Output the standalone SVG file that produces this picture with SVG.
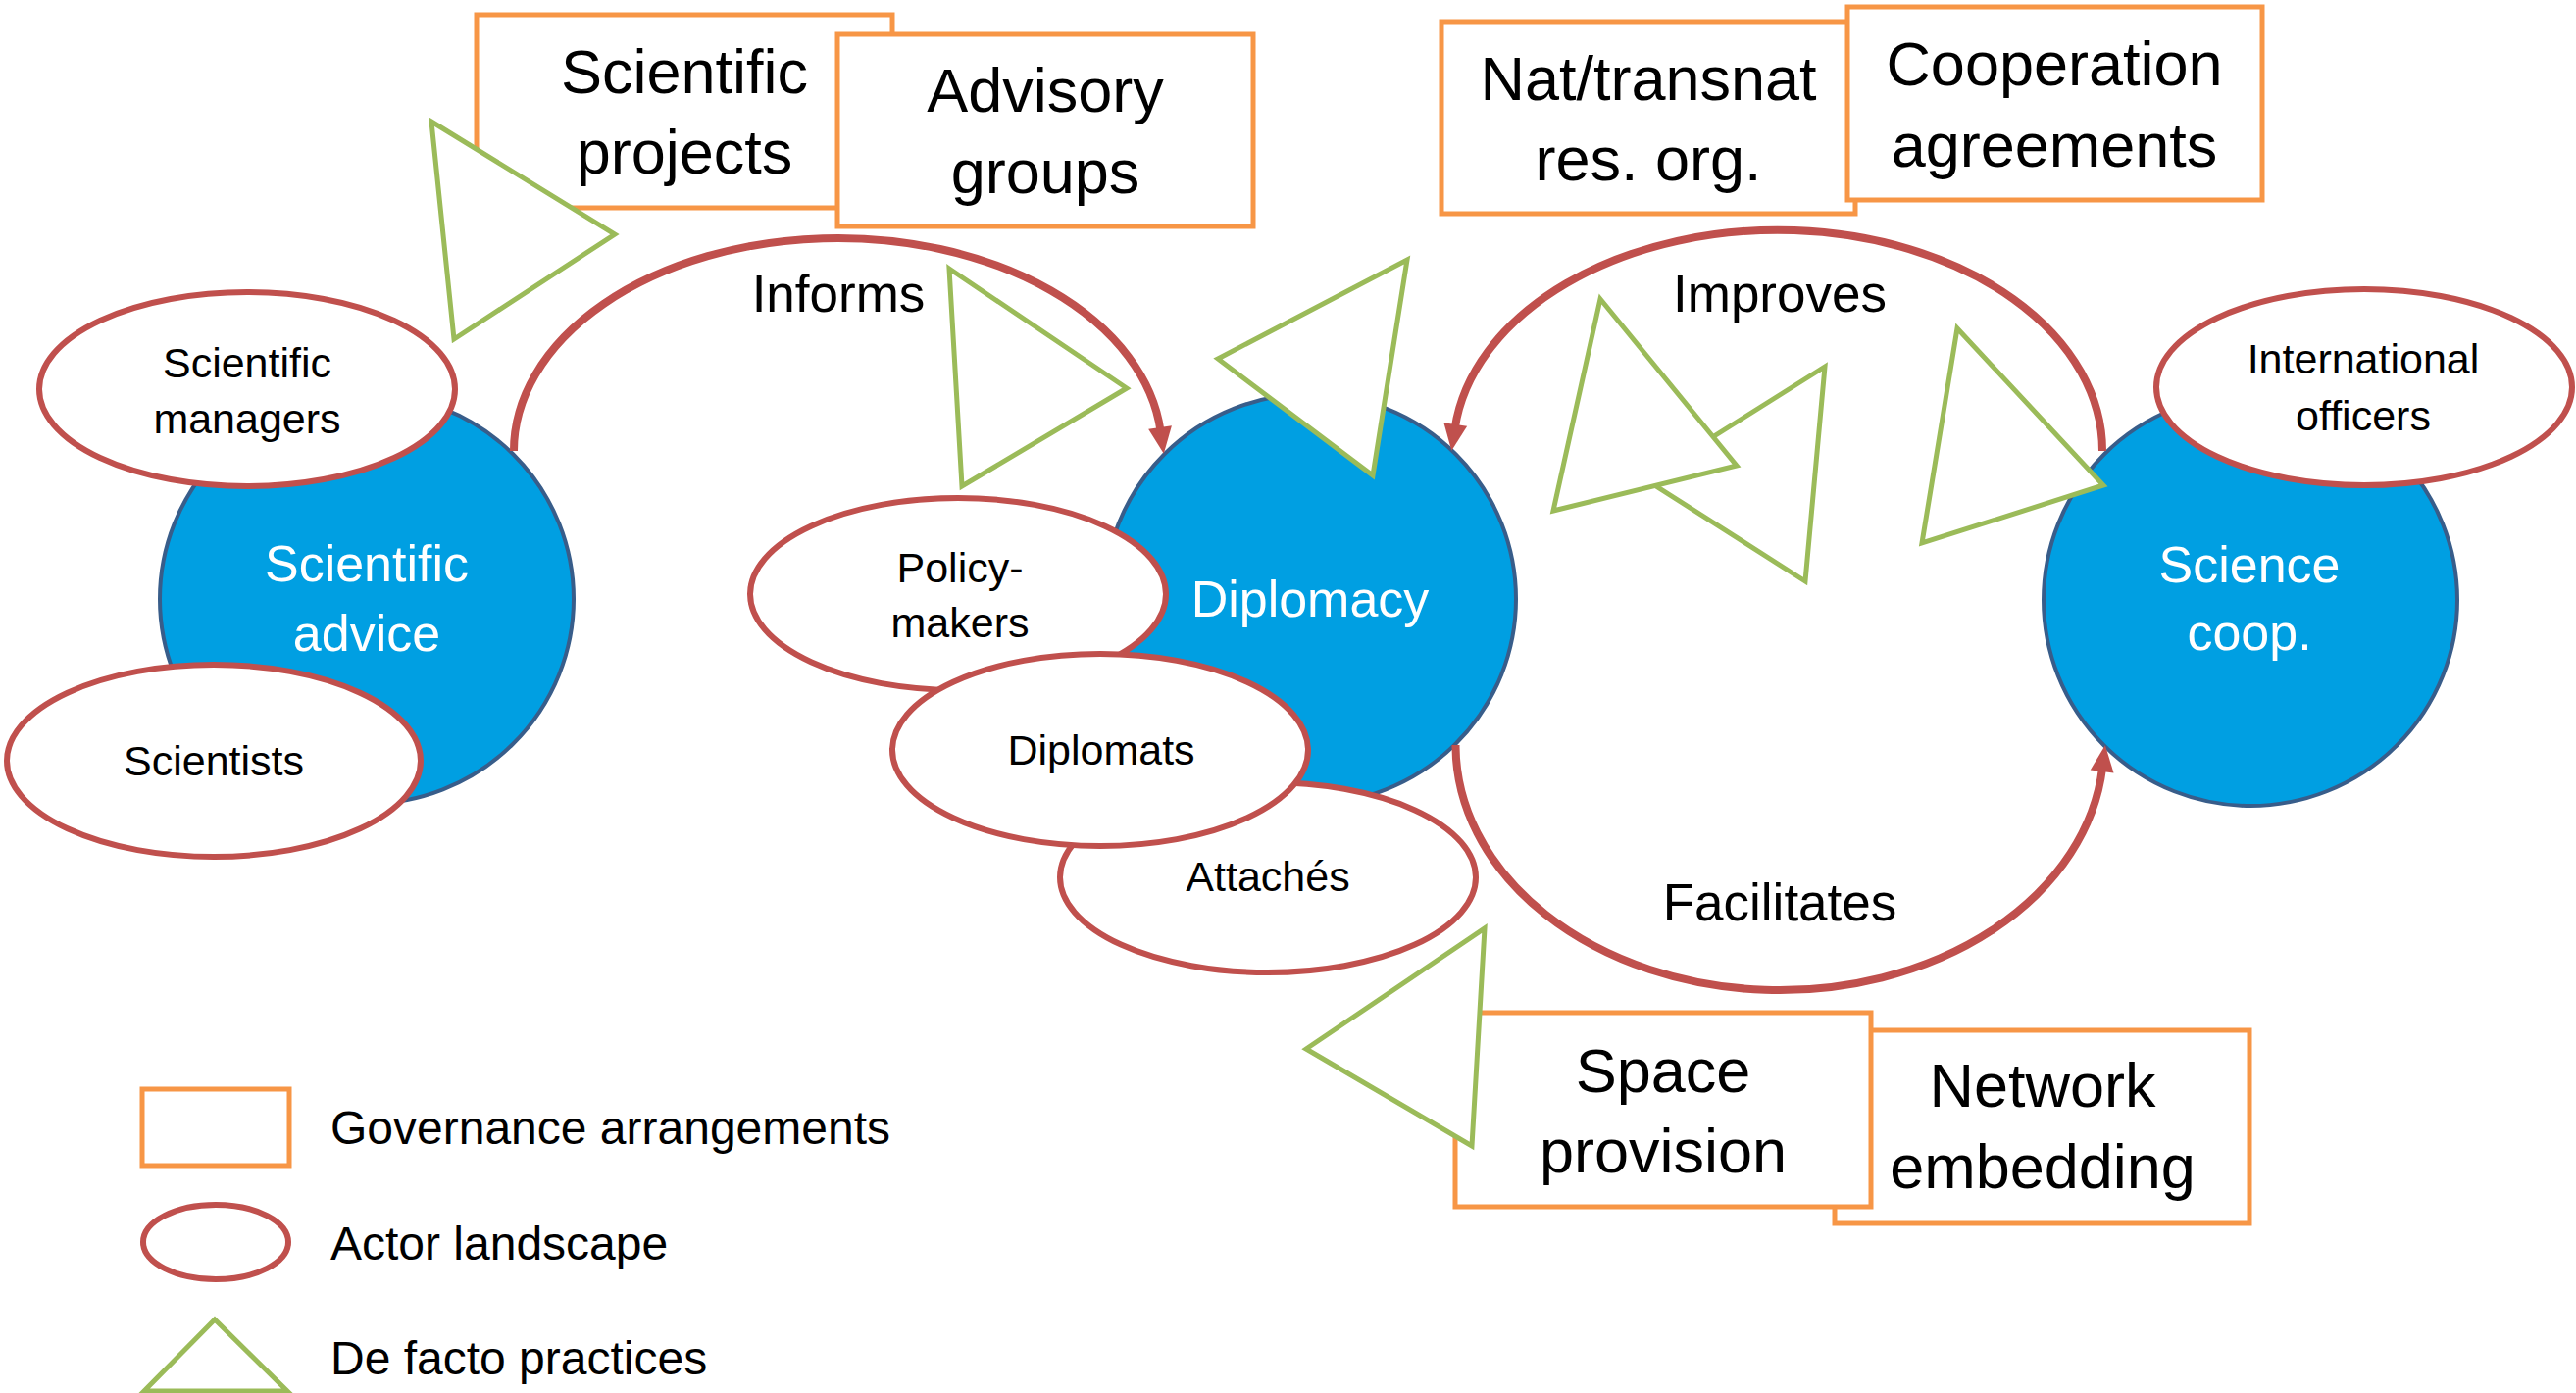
<svg xmlns="http://www.w3.org/2000/svg" width="2627" height="1421" viewBox="0 0 2627 1421">
<defs>
<style>
.box{fill:#fff;stroke:#F79646;stroke-width:5}
.actor{fill:#fff;stroke:#C0504D;stroke-width:6}
.prac{fill:#fff;stroke:#9BBB59;stroke-width:5;stroke-linejoin:miter}
.core{fill:#009FE2;stroke:#385D8A;stroke-width:4}
.conn{fill:none;stroke:#C0504D;stroke-width:8}
text{font-family:"Liberation Sans",Arial,sans-serif;text-anchor:middle;fill:#000}
.tb{font-size:63px}
.te{font-size:53px}
.tc{font-size:52px;fill:#fff}
.ts{font-size:43px}
.tl{font-size:48px;text-anchor:start}
</style>
<marker id="ah" markerUnits="userSpaceOnUse" markerWidth="30" markerHeight="24" refX="4" refY="12" orient="auto" overflow="visible">
<path d="M0,0 L27,12 L0,24 z" fill="#C0504D"/>
</marker>
</defs>
<rect width="2627" height="1421" fill="#fff"/>

<!-- governance boxes -->
<g id="box-scientific-projects"><rect class="box" x="486" y="15" width="424" height="197"/><text class="tb" x="698" y="95">Scientific</text><text class="tb" x="698" y="177">projects</text></g>
<g id="tri-1"><polygon class="prac" points="440,124 627,239 463,346"/></g>
<g id="box-advisory-groups"><rect class="box" x="854" y="35" width="424" height="196"/><text class="tb" x="1066" y="114">Advisory</text><text class="tb" x="1066" y="197">groups</text></g>
<g id="box-nat-res-org"><rect class="box" x="1470" y="22" width="422" height="196"/><text class="tb" x="1681" y="102">Nat/transnat</text><text class="tb" x="1681" y="184">res. org.</text></g>
<g id="box-cooperation-agreements"><rect class="box" x="1884" y="7" width="423" height="197"/><text class="tb" x="2095" y="87">Cooperation</text><text class="tb" x="2095" y="170">agreements</text></g>
<g id="box-network-embedding"><rect class="box" x="1871" y="1051" width="423" height="197"/><text class="tb" x="2083" y="1129">Network</text><text class="tb" x="2083" y="1212">embedding</text></g>
<g id="box-space-provision"><rect class="box" x="1484" y="1033" width="424" height="198"/><text class="tb" x="1696" y="1114">Space</text><text class="tb" x="1696" y="1196">provision</text></g>
<g id="tri-7"><polygon class="prac" points="1332,1070 1514,947 1501,1169"/></g>

<!-- core circles -->
<g id="scientific-advice"><ellipse class="core" cx="374" cy="611" rx="211" ry="209"/><text class="tc" x="374" y="593">Scientific</text><text class="tc" x="374" y="664">advice</text></g>
<g id="diplomacy"><ellipse class="core" cx="1336" cy="611" rx="210" ry="209"/><text class="tc" x="1336" y="629">Diplomacy</text></g>
<g id="science-coop"><ellipse class="core" cx="2295" cy="612" rx="211" ry="210"/><text class="tc" x="2294" y="594">Science</text><text class="tc" x="2294" y="663">coop.</text></g>

<!-- connectors -->
<g id="connectors">
<path class="conn" d="M524,460 A330.5,217 0 0 1 1183.6,440" marker-end="url(#ah)"/>
<path class="conn" d="M2144,460 A331,225 0 0 0 1483.7,437" marker-end="url(#ah)"/>
<path class="conn" d="M1484.5,760 A330.5,250 0 0 0 2144.1,783" marker-end="url(#ah)"/>
<text class="te" x="855" y="318">Informs</text>
<text class="te" x="1815" y="318">Improves</text>
<text class="te" x="1815" y="939">Facilitates</text>
</g>

<!-- practices triangles -->
<g id="tri-2"><polygon class="prac" points="968,274 1149,396 981,496"/></g>
<g id="tri-3"><polygon class="prac" points="1242,366 1435,265 1400,485"/></g>
<g id="tri-5"><polygon class="prac" points="1861,374 1841,593 1678,489"/></g>
<g id="tri-4"><polygon class="prac" points="1632,305 1771,475 1584,521"/></g>
<g id="tri-6"><polygon class="prac" points="1996,335 2145,495 1960,554"/></g>

<!-- actors -->
<g id="scientific-managers"><ellipse class="actor" cx="252" cy="397" rx="212" ry="99"/><text class="ts" x="252" y="385">Scientific</text><text class="ts" x="252" y="442">managers</text></g>
<g id="scientists"><ellipse class="actor" cx="218" cy="776" rx="211" ry="98"/><text class="ts" x="218" y="791">Scientists</text></g>
<g id="policy-makers"><ellipse class="actor" cx="977" cy="606" rx="212" ry="98"/><text class="ts" x="979" y="594">Policy-</text><text class="ts" x="979" y="650">makers</text></g>
<g id="attaches"><ellipse class="actor" cx="1293" cy="895" rx="212" ry="97"/><text class="ts" x="1293" y="909">Attachés</text></g>
<g id="diplomats"><ellipse class="actor" cx="1122" cy="765" rx="212" ry="98"/><text class="ts" x="1123" y="780">Diplomats</text></g>
<g id="international-officers"><ellipse class="actor" cx="2411" cy="395" rx="212" ry="100"/><text class="ts" x="2410" y="381">International</text><text class="ts" x="2410" y="439">officers</text></g>

<!-- legend -->
<g id="legend">
<rect class="box" x="145" y="1111" width="150" height="78"/>
<text class="tl" x="337" y="1167">Governance arrangements</text>
<ellipse class="actor" cx="220" cy="1267" rx="74" ry="38"/>
<text class="tl" x="337" y="1285">Actor landscape</text>
<polygon class="prac" points="219,1346 293,1419 147,1419"/>
<text class="tl" x="337" y="1402">De facto practices</text>
</g>
</svg>
